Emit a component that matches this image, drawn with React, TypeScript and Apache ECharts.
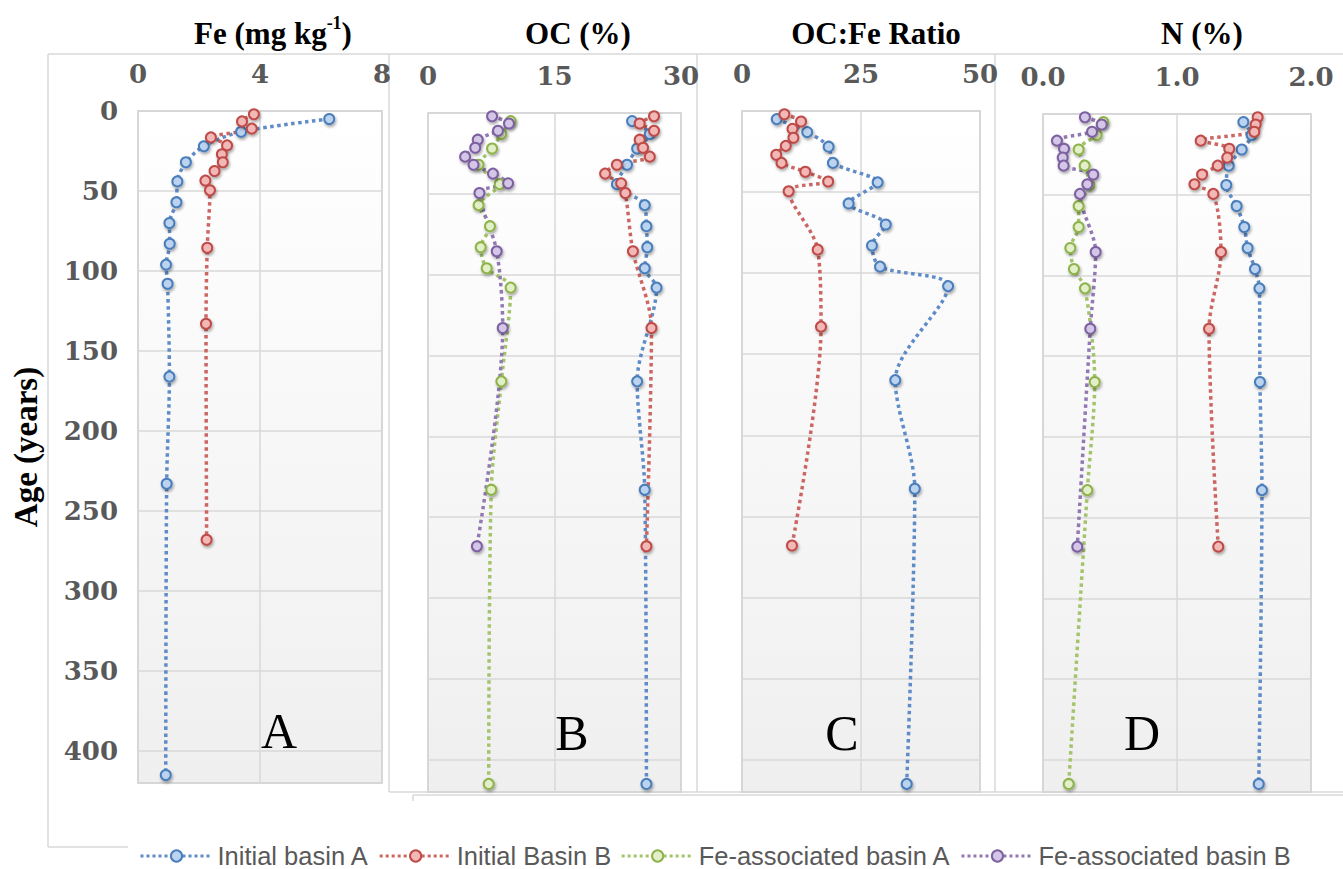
import React, { useEffect, useRef } from "react";
import * as echarts from "echarts";

// Ages (years) of the sampled layers
const agesBasinA = [5, 13, 22, 32, 44, 57, 70, 83, 96, 108, 166, 233, 415];
const agesBasinB = [2, 6.5, 11, 16.5, 21.5, 27, 32, 37.5, 43.5, 49.5, 85.5, 133, 268];

// Panel A: Fe (mg kg-1)
const feInitialA = [6.27, 3.38, 2.16, 1.57, 1.29, 1.26, 1.03, 1.04, 0.92, 0.97, 1.03, 0.94, 0.91];
const feInitialB = [3.8, 3.41, 3.73, 2.39, 2.92, 2.75, 2.78, 2.51, 2.21, 2.36, 2.27, 2.23, 2.25];

// Panel B: OC (%)
const ocInitialA = [24.2, 26.3, 24.8, 23.6, 22.4, 25.7, 25.9, 26.0, 25.7, 27.1, 24.8, 25.7, 25.9];
const ocInitialB = [26.8, 25.1, 26.8, 25.1, 25.5, 26.3, 22.4, 21.0, 22.9, 23.4, 24.3, 26.5, 25.9];
const ocFeAssocA = [9.8, 8.7, 7.6, 6.0, 8.5, 6.0, 7.35, 6.25, 6.96, 9.8, 8.7, 7.5, 7.2];
const ocFeAssocB = [7.6, 9.6, 8.3, 5.9, 5.6, 4.4, 5.4, 7.7, 9.5, 6.1, 8.15, 8.86, 5.8];

// Panel C: OC:Fe ratio
const ratioInitialA = [7.3, 13.7, 18.2, 19.1, 28.5, 22.4, 30.2, 27.3, 29.0, 43.3, 32.2, 36.3, 34.6];
const ratioInitialB = [8.9, 12.4, 10.6, 10.8, 9.2, 7.2, 8.3, 13.3, 18.1, 9.8, 15.9, 16.6, 10.5];

// Panel D: N (%)
const nInitialA = [1.495, 1.557, 1.483, 1.386, 1.368, 1.445, 1.502, 1.527, 1.582, 1.615, 1.619, 1.634, 1.61];
const nInitialB = [1.602, 1.587, 1.577, 1.177, 1.39, 1.375, 1.304, 1.187, 1.13, 1.271, 1.328, 1.239, 1.308];
const nFeAssocA = [0.45, 0.4, 0.266, 0.311, 0.346, 0.266, 0.266, 0.204, 0.231, 0.313, 0.386, 0.331, 0.192];
const nFeAssocB = [0.313, 0.438, 0.366, 0.104, 0.157, 0.147, 0.154, 0.375, 0.331, 0.276, 0.393, 0.353, 0.256];

const seriesNames = ["Initial basin A", "Initial Basin B", "Fe-associated basin A", "Fe-associated basin B"];
const panelTitles = ["Fe (mg kg", "OC (%)", "OC:Fe Ratio", "N (%)"];
const panelLetters = ["A", "B", "C", "D"];
const xMax = [8, 30, 50, 2];
const xInterval = [4, 15, 25, 1];

const STYLES: Record<string, { main: string; fill: string; line: string }> = {
  "Initial basin A": { main: "#4a7ebb", fill: "#bcd3f0", line: "#5f8cc8" },
  "Initial Basin B": { main: "#be4b48", fill: "#f2b8b6", line: "#cc6662" },
  "Fe-associated basin A": { main: "#8fb34c", fill: "#e2efc8", line: "#a3c46a" },
  "Fe-associated basin B": { main: "#7d60a0", fill: "#d4c6e6", line: "#9279b3" },
};

const GRIDS = [
  { left: 138, top: 111, width: 244, height: 672 },
  { left: 428, top: 113, width: 253, height: 679 },
  { left: 742, top: 111, width: 238, height: 681 },
  { left: 1043, top: 114, width: 268, height: 678 },
];

const SERIF = "'Liberation Serif', 'Times New Roman', serif";
const TICKFONT = "'DejaVu Serif', serif";

function mk(name: string, xs: number[], ages: number[], g: number) {
  const s = STYLES[name];
  return {
    type: "line",
    name,
    xAxisIndex: g,
    yAxisIndex: g,
    data: xs.map((v, i) => [v, ages[i]]),
    smooth: 0.3,
    symbol: "circle",
    symbolSize: 10,
    lineStyle: { type: "dotted", width: 3.5, color: s.line },
    itemStyle: {
      color: s.fill,
      borderColor: s.main,
      borderWidth: 2,
      shadowBlur: 3,
      shadowColor: "rgba(0,0,0,0.35)",
      shadowOffsetX: 1,
      shadowOffsetY: 2,
    },
    emphasis: { disabled: true },
  };
}

export default function App() {
  const ref = useRef<HTMLDivElement>(null);
  useEffect(() => {
    if (!ref.current) return;
    const chart = echarts.init(ref.current, undefined, { renderer: "svg" });
    const lineC = "#d9d9d9";
    const frameLines = [
      [48, 54, 1343, 54],
      [48, 54, 48, 847],
      [48, 847, 128, 847],
      [389, 54, 389, 792],
      [389, 792, 1343, 792],
      [697, 54, 697, 792],
      [995, 54, 995, 792],
      [413, 795, 1343, 795],
      [413, 795, 413, 801],
    ].map(([x1, y1, x2, y2]) => ({
      type: "line",
      shape: { x1, y1, x2, y2 },
      style: { stroke: lineC, lineWidth: 1.5 },
      z: -1,
    }));
    const titleX = [273, 578, 876, 1202];
    const titles = panelTitles.map((t, i) => ({
      type: "text",
      x: titleX[i],
      y: 33,
      style:
        i === 0
          ? {
              text: "{t|" + t + "}{s|-1}{t|)}",
              rich: {
                t: { fontFamily: SERIF, fontSize: 31, fontWeight: "bold", fill: "#000", lineHeight: 38 },
                s: { fontFamily: SERIF, fontSize: 18, fontWeight: "bold", fill: "#000", verticalAlign: "top", lineHeight: 22 },
              },
              align: "center",
              verticalAlign: "middle",
            }
          : {
              text: t,
              fontFamily: SERIF,
              fontSize: 31,
              fontWeight: "bold",
              fill: "#000",
              align: "center",
              verticalAlign: "middle",
            },
    }));
    const letterPos = [
      [279, 731],
      [572, 733],
      [842, 733],
      [1142, 733],
    ];
    const letters = panelLetters.map((l, i) => ({
      type: "text",
      x: letterPos[i][0],
      y: letterPos[i][1],
      style: {
        text: l,
        fontFamily: SERIF,
        fontSize: 50,
        fill: "#000",
        align: "center",
        verticalAlign: "middle",
      },
      z: 10,
    }));

    const grids = GRIDS.map((g) => ({
      ...g,
      show: true,
      borderColor: "#c6c6c6",
      borderWidth: 1.5,
      backgroundColor: {
        type: "linear",
        x: 0,
        y: 0,
        x2: 0,
        y2: 1,
        colorStops: [
          { offset: 0, color: "#ffffff" },
          { offset: 1, color: "#efefef" },
        ],
      },
      containLabel: false,
    }));

    const xAxes = GRIDS.map((_, i) => ({
      type: "value",
      gridIndex: i,
      position: "top",
      min: 0,
      max: xMax[i],
      interval: xInterval[i],
      axisLine: { show: false },
      axisTick: { show: false },
      splitLine: { show: true, lineStyle: { color: lineC, width: 1.5 } },
      axisLabel: {
        margin: 24,
        fontFamily: TICKFONT,
        fontSize: 26,
        fontWeight: "bold",
        color: "#595959",
        formatter: (v: number) => (i === 3 ? v.toFixed(1) : String(v)),
      },
    }));

    const yAxes = GRIDS.map((_, i) => ({
      type: "value",
      gridIndex: i,
      inverse: true,
      min: 0,
      max: 420,
      interval: 50,
      axisLine: { show: false },
      axisTick: { show: false },
      splitLine: { show: true, lineStyle: { color: lineC, width: 1.5 } },
      name: i === 0 ? "Age (years)" : "",
      nameLocation: "middle",
      nameGap: 96,
      nameRotate: 90,
      nameTextStyle: { fontFamily: SERIF, fontSize: 33, fontWeight: "bold", color: "#000", padding: [0, 0, 0, 0] },
      axisLabel: {
        show: i === 0,
        margin: 20,
        fontFamily: TICKFONT,
        fontSize: 26,
        fontWeight: "bold",
        color: "#595959",
        formatter: (v: number) => (v % 50 === 0 ? String(v) : ""),
      },
    }));

    const series = [
      mk(seriesNames[0], feInitialA, agesBasinA, 0),
      mk(seriesNames[1], feInitialB, agesBasinB, 0),
      mk(seriesNames[2], ocFeAssocA, agesBasinA, 1),
      mk(seriesNames[3], ocFeAssocB, agesBasinB, 1),
      mk(seriesNames[0], ocInitialA, agesBasinA, 1),
      mk(seriesNames[1], ocInitialB, agesBasinB, 1),
      mk(seriesNames[0], ratioInitialA, agesBasinA, 2),
      mk(seriesNames[1], ratioInitialB, agesBasinB, 2),
      mk(seriesNames[2], nFeAssocA, agesBasinA, 3),
      mk(seriesNames[3], nFeAssocB, agesBasinB, 3),
      mk(seriesNames[0], nInitialA, agesBasinA, 3),
      mk(seriesNames[1], nInitialB, agesBasinB, 3),
    ];

    chart.setOption({
      animation: false,
      backgroundColor: "#ffffff",
      grid: grids,
      xAxis: xAxes,
      yAxis: yAxes,
      series,
      legend: {
        data: seriesNames,
        left: 134,
        top: 838,
        itemWidth: 72,
        itemHeight: 14,
        itemGap: 9,
        selectedMode: false,
        lineStyle: { width: 3, type: "dotted" },
        textStyle: {
          fontFamily: "'Liberation Sans', Arial, sans-serif",
          fontSize: 25.5,
          lineHeight: 26,
          color: "#595959",
        },
      },
      graphic: [...frameLines, ...titles, ...letters],
    });
    return () => chart.dispose();
  }, []);
  return (
    <div
      ref={ref}
      style={{ position: "absolute", left: 0, top: 0, width: 1343, height: 869 }}
    />
  );
}
